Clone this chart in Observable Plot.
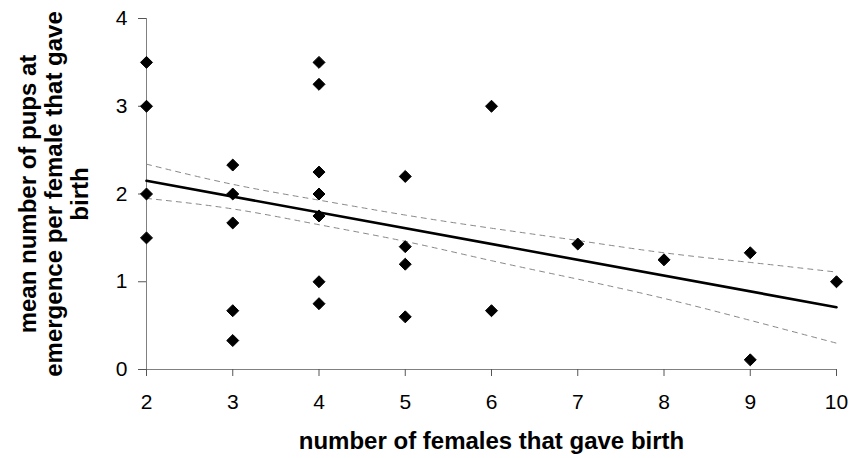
<!DOCTYPE html>
<html>
<head>
<meta charset="utf-8">
<script src="https://cdn.jsdelivr.net/npm/d3@7"></script>
<script src="https://cdn.jsdelivr.net/npm/@observablehq/plot@0.6"></script>
<style>
  html, body { margin: 0; padding: 0; background: #fff; }
  #chart svg { display: block; }
</style>
</head>
<body>
<div id="chart"></div>
<script>
// observed points
const femalesX = [2, 2, 2, 2, 3, 3, 3, 3, 3, 4, 4, 4, 4, 4, 4, 4, 5, 5, 5, 5, 6, 6, 7, 8, 9, 9, 10];
const pupsY    = [3.5, 3.0, 2.0, 1.5, 2.33, 2.0, 1.67, 0.67, 0.33, 3.5, 3.25, 2.25, 2.0, 1.75, 1.0, 0.75, 2.2, 1.4, 1.2, 0.6, 3.0, 0.67, 1.43, 1.25, 1.33, 0.11, 1.0];

// fitted regression line (endpoints)
const fitX = [2, 10];
const fitY = [2.15, 0.71];

// confidence band
const bandX     = [2, 3, 4, 5, 6, 7, 8, 9, 10];
const bandUpper = [2.34, 2.11, 1.93, 1.76, 1.61, 1.47, 1.33, 1.22, 1.11];
const bandLower = [1.95, 1.83, 1.65, 1.46, 1.24, 1.03, 0.81, 0.56, 0.30];

const xTicks = [2, 3, 4, 5, 6, 7, 8, 9, 10];
const yTicks = [0, 1, 2, 3, 4];

const xTitle = "number of females that gave birth";
const yTitle = "mean number of pups at\nemergence per female that gave\nbirth";

const points = femalesX.map((x, i) => ({x, y: pupsY[i]}));
const fit = fitX.map((x, i) => ({x, y: fitY[i]}));
const upper = bandX.map((x, i) => ({x, y: bandUpper[i]}));
const lower = bandX.map((x, i) => ({x, y: bandLower[i]}));

const plot = Plot.plot({
  width: 850,
  height: 458,
  marginLeft: 146,
  marginRight: 14,
  marginTop: 18,
  marginBottom: 89,
  style: {fontFamily: "'Liberation Sans', Arial, sans-serif", fontSize: "21px", color: "black", background: "white"},
  x: {domain: [2, 10]},
  y: {domain: [0, 4]},
  marks: [
    Plot.ruleX([2], {stroke: "#808080", strokeWidth: 1}),
    Plot.ruleY([0], {stroke: "#808080", strokeWidth: 1}),
    Plot.axisX({ticks: xTicks, tickFormat: "d", tickSize: 7, tickPadding: 18, stroke: "#555", fill: "black", label: null, fontSize: 21}),
    Plot.axisY({ticks: yTicks, tickFormat: "d", tickSize: 8, tickPadding: 11, stroke: "#555", fill: "black", label: null, fontSize: 21}),
    Plot.line(upper, {x: "x", y: "y", stroke: "#888", strokeWidth: 1, strokeDasharray: "5,5", curve: "natural"}),
    Plot.line(lower, {x: "x", y: "y", stroke: "#888", strokeWidth: 1, strokeDasharray: "5,5", curve: "natural"}),
    Plot.line(fit, {x: "x", y: "y", stroke: "black", strokeWidth: 2.6}),
    Plot.dot(points, {x: "x", y: "y", symbol: "diamond2", r: 5.4, fill: "black", stroke: "black", strokeWidth: 1}),
    Plot.text([xTitle], {frameAnchor: "bottom", dy: 72, lineAnchor: "middle", fontWeight: "bold", fontSize: 24, fill: "black"}),
    Plot.text([yTitle], {frameAnchor: "left", dx: -93, rotate: -90, lineAnchor: "middle", textAnchor: "middle", lineHeight: 1.1, fontWeight: "bold", fontSize: 24, fill: "black"})
  ]
});
document.getElementById("chart").appendChild(plot);
</script>
</body>
</html>
